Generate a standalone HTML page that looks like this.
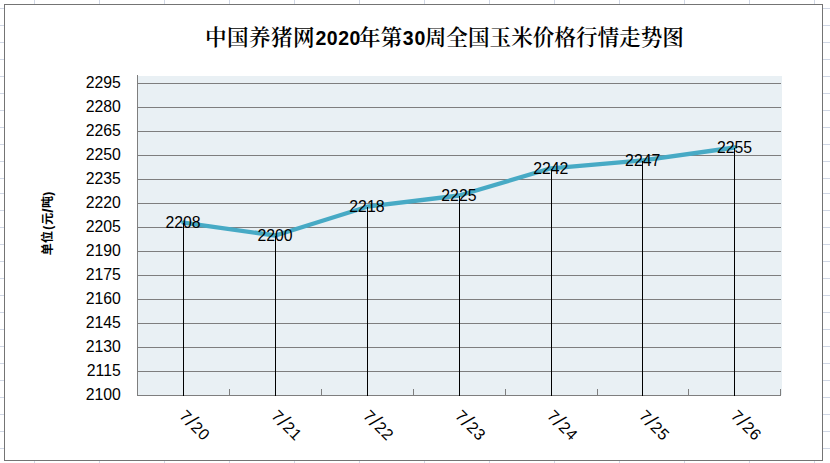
<!DOCTYPE html>
<html lang="zh-CN"><head><meta charset="utf-8"><title>中国养猪网2020年第30周全国玉米价格行情走势图</title>
<style>
html,body{margin:0;padding:0;background:#fff;}
body{width:830px;height:463px;overflow:hidden;position:relative;}
svg{position:absolute;left:0;top:0;display:block;}
text{font-family:"Liberation Sans","Noto Sans CJK SC",sans-serif;fill:#000;}
.title{font-family:"Liberation Sans","Noto Serif CJK SC",serif;font-weight:600;font-size:21.6px;}
.title .n{font-size:19.5px;font-weight:bold;letter-spacing:0.45px;}
.ylab{font-size:15.8px;text-anchor:end;}
.dlab{font-size:15.8px;text-anchor:middle;}
.xlab{font-size:16px;text-anchor:middle;letter-spacing:0.7px;}
.xlab .s{font-size:21px;}
.ytitle{font-family:"Liberation Sans","Noto Sans CJK SC",sans-serif;font-weight:bold;font-size:12px;text-anchor:middle;}
</style></head><body>
<svg width="830" height="463" viewBox="0 0 830 463">
<rect x="0" y="0" width="830" height="463" fill="#ffffff"/>

<g stroke="#d0d7e5" stroke-width="1" shape-rendering="crispEdges">
<line x1="34.5" y1="0" x2="34.5" y2="463"/>
<line x1="99.5" y1="0" x2="99.5" y2="463"/>
<line x1="164.5" y1="0" x2="164.5" y2="463"/>
<line x1="229.5" y1="0" x2="229.5" y2="463"/>
<line x1="294.5" y1="0" x2="294.5" y2="463"/>
<line x1="359.5" y1="0" x2="359.5" y2="463"/>
<line x1="424.5" y1="0" x2="424.5" y2="463"/>
<line x1="489.5" y1="0" x2="489.5" y2="463"/>
<line x1="554.5" y1="0" x2="554.5" y2="463"/>
<line x1="619.5" y1="0" x2="619.5" y2="463"/>
<line x1="684.5" y1="0" x2="684.5" y2="463"/>
<line x1="749.5" y1="0" x2="749.5" y2="463"/>
<line x1="814.5" y1="0" x2="814.5" y2="463"/>
<line x1="0" y1="8.5" x2="830" y2="8.5"/>
<line x1="0" y1="25.5" x2="830" y2="25.5"/>
<line x1="0" y1="42.5" x2="830" y2="42.5"/>
<line x1="0" y1="59.5" x2="830" y2="59.5"/>
<line x1="0" y1="76.5" x2="830" y2="76.5"/>
<line x1="0" y1="93.5" x2="830" y2="93.5"/>
<line x1="0" y1="110.5" x2="830" y2="110.5"/>
<line x1="0" y1="127.5" x2="830" y2="127.5"/>
<line x1="0" y1="144.5" x2="830" y2="144.5"/>
<line x1="0" y1="161.5" x2="830" y2="161.5"/>
<line x1="0" y1="178.5" x2="830" y2="178.5"/>
<line x1="0" y1="193.5" x2="830" y2="193.5"/>
<line x1="0" y1="210.5" x2="830" y2="210.5"/>
<line x1="0" y1="227.5" x2="830" y2="227.5"/>
<line x1="0" y1="244.5" x2="830" y2="244.5"/>
<line x1="0" y1="261.5" x2="830" y2="261.5"/>
<line x1="0" y1="278.5" x2="830" y2="278.5"/>
<line x1="0" y1="295.5" x2="830" y2="295.5"/>
<line x1="0" y1="312.5" x2="830" y2="312.5"/>
<line x1="0" y1="329.5" x2="830" y2="329.5"/>
<line x1="0" y1="346.5" x2="830" y2="346.5"/>
<line x1="0" y1="363.5" x2="830" y2="363.5"/>
<line x1="0" y1="380.5" x2="830" y2="380.5"/>
<line x1="0" y1="397.5" x2="830" y2="397.5"/>
<line x1="0" y1="414.5" x2="830" y2="414.5"/>
<line x1="0" y1="431.5" x2="830" y2="431.5"/>
<line x1="0" y1="448.5" x2="830" y2="448.5"/>
</g>
<rect x="4.5" y="4.5" width="818" height="456" fill="#ffffff" stroke="#747474" stroke-width="1" shape-rendering="crispEdges"/>
<rect x="138" y="76" width="644" height="319" fill="#e9f0f4" shape-rendering="crispEdges"/>
<g stroke="#7e7e7e" stroke-width="1" shape-rendering="crispEdges">
<line x1="137" y1="83.5" x2="781" y2="83.5"/>
<line x1="137" y1="107.5" x2="781" y2="107.5"/>
<line x1="137" y1="131.5" x2="781" y2="131.5"/>
<line x1="137" y1="155.5" x2="781" y2="155.5"/>
<line x1="137" y1="179.5" x2="781" y2="179.5"/>
<line x1="137" y1="203.5" x2="781" y2="203.5"/>
<line x1="137" y1="227.5" x2="781" y2="227.5"/>
<line x1="137" y1="251.5" x2="781" y2="251.5"/>
<line x1="137" y1="275.5" x2="781" y2="275.5"/>
<line x1="137" y1="299.5" x2="781" y2="299.5"/>
<line x1="137" y1="323.5" x2="781" y2="323.5"/>
<line x1="137" y1="347.5" x2="781" y2="347.5"/>
<line x1="137" y1="371.5" x2="781" y2="371.5"/>
<line x1="137" y1="395.5" x2="781" y2="395.5"/>
<line x1="137.5" y1="75" x2="137.5" y2="396"/>
<line x1="229.5" y1="389" x2="229.5" y2="396"/>
<line x1="321.5" y1="389" x2="321.5" y2="396"/>
<line x1="413.5" y1="389" x2="413.5" y2="396"/>
<line x1="505.5" y1="389" x2="505.5" y2="396"/>
<line x1="597.5" y1="389" x2="597.5" y2="396"/>
<line x1="688.5" y1="389" x2="688.5" y2="396"/>
<line x1="780.5" y1="389" x2="780.5" y2="396"/>
</g>
<path d="M183.4,222.7 L275.4,235.5 L367.2,206.7 L459.2,195.5 L551.0,168.3 L643.0,160.3 L734.9,147.5" fill="none" stroke="#47aac5" stroke-width="4.3" stroke-linejoin="round" stroke-linecap="round"/>
<g stroke="#000" stroke-width="1" shape-rendering="crispEdges">
<line x1="183.5" y1="223.0" x2="183.5" y2="396"/>
<line x1="275.5" y1="235.8" x2="275.5" y2="396"/>
<line x1="367.5" y1="207.0" x2="367.5" y2="396"/>
<line x1="459.5" y1="195.8" x2="459.5" y2="396"/>
<line x1="551.5" y1="168.6" x2="551.5" y2="396"/>
<line x1="642.5" y1="160.6" x2="642.5" y2="396"/>
<line x1="734.5" y1="147.8" x2="734.5" y2="396"/>
</g>
<text class="ylab" x="120.8" y="88.40">2295</text>
<text class="ylab" x="120.8" y="112.40">2280</text>
<text class="ylab" x="120.8" y="136.40">2265</text>
<text class="ylab" x="120.8" y="160.40">2250</text>
<text class="ylab" x="120.8" y="184.40">2235</text>
<text class="ylab" x="120.8" y="208.40">2220</text>
<text class="ylab" x="120.8" y="232.40">2205</text>
<text class="ylab" x="120.8" y="256.40">2190</text>
<text class="ylab" x="120.8" y="280.40">2175</text>
<text class="ylab" x="120.8" y="304.40">2160</text>
<text class="ylab" x="120.8" y="328.40">2145</text>
<text class="ylab" x="120.8" y="352.40">2130</text>
<text class="ylab" x="120.8" y="376.40">2115</text>
<text class="ylab" x="120.8" y="400.40">2100</text>
<text class="dlab" x="183.1" y="228.40">2208</text>
<text class="dlab" x="275.1" y="241.20">2200</text>
<text class="dlab" x="366.9" y="212.40">2218</text>
<text class="dlab" x="458.9" y="201.20">2225</text>
<text class="dlab" x="550.8" y="174.00">2242</text>
<text class="dlab" x="642.7" y="166.00">2247</text>
<text class="dlab" x="734.6" y="153.20">2255</text>
<text class="xlab" transform="translate(195.1,425.2) rotate(45)" x="0" y="5.75">7<tspan class="s" dy="1">/</tspan><tspan dy="-1">20</tspan></text>
<text class="xlab" transform="translate(287.1,425.2) rotate(45)" x="0" y="5.75">7<tspan class="s" dy="1">/</tspan><tspan dy="-1">21</tspan></text>
<text class="xlab" transform="translate(378.9,425.2) rotate(45)" x="0" y="5.75">7<tspan class="s" dy="1">/</tspan><tspan dy="-1">22</tspan></text>
<text class="xlab" transform="translate(470.9,425.2) rotate(45)" x="0" y="5.75">7<tspan class="s" dy="1">/</tspan><tspan dy="-1">23</tspan></text>
<text class="xlab" transform="translate(562.8,425.2) rotate(45)" x="0" y="5.75">7<tspan class="s" dy="1">/</tspan><tspan dy="-1">24</tspan></text>
<text class="xlab" transform="translate(654.7,425.2) rotate(45)" x="0" y="5.75">7<tspan class="s" dy="1">/</tspan><tspan dy="-1">25</tspan></text>
<text class="xlab" transform="translate(746.6,425.2) rotate(45)" x="0" y="5.75">7<tspan class="s" dy="1">/</tspan><tspan dy="-1">26</tspan></text>
<text class="ytitle" transform="translate(48,223.5) rotate(-90)" x="0" y="4.3">单位<tspan letter-spacing="1" dx="1.3">(</tspan>元<tspan letter-spacing="0.6" dx="0" dy="0.8" font-size="15.5">/</tspan><tspan dy="-0.8">吨)</tspan></text>
<text class="title" x="205.0" y="45.3"><tspan letter-spacing="0.4">中国养猪网</tspan><tspan class="n" dy="-0.6" dx="0.6">2020</tspan><tspan dy="0.6" dx="-1.7">年第</tspan><tspan class="n" dy="-0.6" dx="0.5" style="letter-spacing:0.9px">30</tspan><tspan dy="0.6" dx="-1.5">周全国玉米价格行情走势图</tspan></text>
</svg></body></html>
